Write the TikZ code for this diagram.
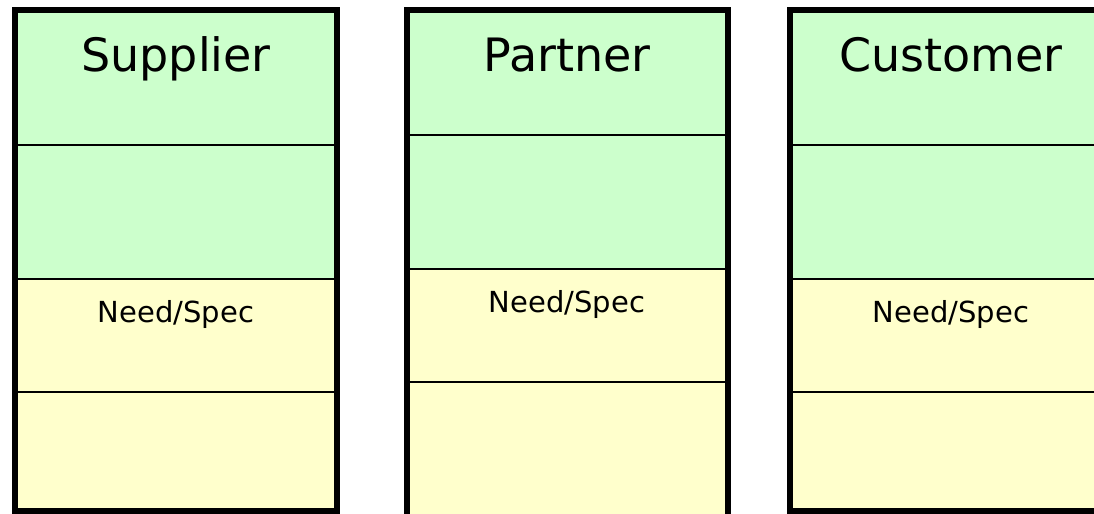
\documentclass[tikz,border=0pt]{standalone}
\usepackage{fontspec}
\setmainfont{DejaVu Sans}
\usepackage{tikz}
\definecolor{lanegreen}{HTML}{CCFFCC}
\definecolor{laneyellow}{HTML}{FFFFCC}
\tikzset{
  lane/.style={line width=3pt},
  divider/.style={line width=1pt},
  title/.style={anchor=base,font=\fontsize{23}{27}\selectfont},
  spec/.style={anchor=base,font=\fontsize{14.5}{17}\selectfont}
}
\begin{document}
\begin{tikzpicture}[x=0.5pt,y=-0.5pt]
    \useasboundingbox (0,0) rectangle (1094,514);
    \clip (0,0) rectangle (1094,514);
    % supplier
    \fill[lanegreen] (15,10) rectangle (337,279);
    \fill[laneyellow] (15,279) rectangle (337,511);
    \draw[divider]
       (15,145) -- (337,145);
    \draw[divider]
       (15,279) -- (337,279);
    \draw[divider]
       (15,392) -- (337,392);
    \draw[lane] (15,10) rectangle (337,511);
    \node[title](sup) at (176,71) {Supplier};
    \node[spec](supneed) at (176,322) {Need/Spec};
    % partner
    \fill[lanegreen] (407,10) rectangle (728,269);
    \fill[laneyellow] (407,269) rectangle (728,530);
    \draw[divider]
       (407,135) -- (728,135);
    \draw[divider]
       (407,269) -- (728,269);
    \draw[divider]
       (407,382) -- (728,382);
    \draw[lane] (407,10) rectangle (728,530);
    \node[title](par) at (567,71) {Partner};
    \node[spec](parneed) at (567,312) {Need/Spec};
    % customer
    \fill[lanegreen] (790,10) rectangle (1112,279);
    \fill[laneyellow] (790,279) rectangle (1112,511);
    \draw[divider]
       (790,145) -- (1112,145);
    \draw[divider]
       (790,279) -- (1112,279);
    \draw[divider]
       (790,392) -- (1112,392);
    \draw[lane] (790,10) rectangle (1112,511);
    \node[title](cus) at (951,71) {Customer};
    \node[spec](cusneed) at (951,322) {Need/Spec};
\end{tikzpicture}
\end{document}
